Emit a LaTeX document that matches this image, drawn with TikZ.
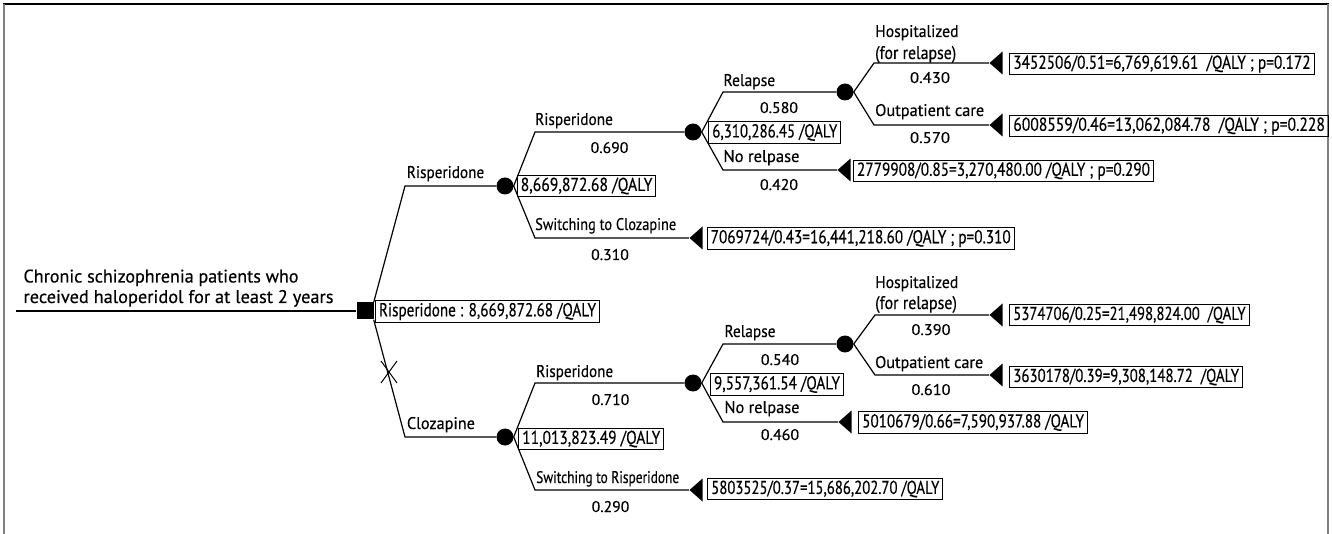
\documentclass[tikz,border=0pt]{standalone}
\usepackage{fontspec}
\usepackage{graphicx}
\setmainfont{PT Sans}[FakeBold=0.4]
\usetikzlibrary{shapes.geometric,shapes.misc}
\newcommand{\labw}[2]{\resizebox{#1pt}{12pt}{#2}}
\newcommand{\rootw}[2]{\resizebox{#1pt}{13pt}{#2}}
\newcommand{\boxw}[2]{\resizebox{#1pt}{13.3pt}{#2}}
\newcommand{\probw}[2]{\resizebox{#1pt}{11pt}{#2}}
\tikzset{
  br/.style={line width=1.2pt},
  qbox/.style={draw, line width=1pt, anchor=west, inner xsep=3.5pt, inner ysep=0pt, minimum height=21.5pt},
  chance/.style={circle, fill=black, minimum size=17pt, inner sep=0pt},
  term/.style={isosceles triangle, shape border rotate=180, fill=black, isosceles triangle stretches,
     minimum width=23pt, minimum height=13pt, inner sep=0pt, anchor=apex},
  lbl/.style={anchor=base west, inner sep=0pt},
  prob/.style={anchor=base, inner sep=0pt},
  every node/.append style={font=\fontsize{17}{20}\selectfont}
}
\begin{document}
\begin{tikzpicture}[x=1pt,y=-1pt]
\useasboundingbox (0,0) rectangle (1332,534);
% frame
\draw[black, line width=1.6pt] (3,4) -- (1329,4);
\draw[gray, line width=2pt] (4,4) -- (4,534);
\draw[gray, line width=2pt] (1328,4) -- (1328,534);

% root
\coordinate (start) at (16,311);
\node[fill=black, minimum size=17pt, inner sep=0pt] (sq) at (365,311) {};
\node[lbl] (root1) at (23.3,282.5) {\rootw{275}{Chronic schizophrenia patients who}};
\node[lbl] (root2) at (23.3,303) {\rootw{310}{received haloperidol for at least 2 years}};
\draw[br] (start) -- (sq.west);
\node[qbox] (bsq) at (375,311.5) {\boxw{217}{Risperidone : 8,669,872.68 /QALY}};

% first level
\node[chance] (c1) at (505,186) {};
\node[chance] (c2) at (505,437) {};
\coordinate (k1) at (405,186);
\coordinate (k2) at (405,437);
\draw[br] (sq.north east) -- (k1) -- (c1);
\draw[br] (sq.south east) -- (k2) -- (c2);
\node[lbl] (l1) at (406.7,178) {\labw{77.3}{Risperidone}};
\node[lbl] (l2) at (406.7,429) {\labw{68}{Clozapine}};
\node[draw, cross out, line width=1pt, minimum width=15pt, minimum height=21pt, inner sep=0pt] (xm) at (389,372) {};
\node[qbox] (b1) at (516.7,186) {\boxw{131.7}{8,669,872.68 /QALY}};
\node[qbox] (b2) at (518.3,439) {\boxw{138}{11,013,823.49 /QALY}};

% ===== top subtree
\node[chance] (c11) at (693,132) {};
\node[term] (t12) at (689,238) {};
\coordinate (k11) at (535,132);
\coordinate (k12) at (535,238);
\draw[br] (c1.east) -- (k11) -- (c11);
\draw[br] (c1.east) -- (k12) -- (t12.apex);
\node[lbl] (l11) at (535,125) {\labw{77.7}{Risperidone}};
\node[prob] (p11) at (609.5,153) {\probw{37.7}{0.690}};
\node[lbl] (l12) at (535,230) {\labw{141}{Switching to Clozapine}};
\node[prob] (p12) at (610,260) {\probw{37.7}{0.310}};
\node[qbox] (b12) at (706.7,238.5) {\boxw{300}{7069724/0.43=16,441,218.60 /QALY ; p=0.310}};
\node[qbox] (b11) at (708.3,132.5) {\boxw{125}{6,310,286.45 /QALY}};

\node[chance] (c111) at (845,92) {};
\node[term] (t112) at (837,170) {};
\coordinate (k111) at (723,92);
\coordinate (k112) at (723,170);
\draw[br] (c11.east) -- (k111) -- (c111);
\draw[br] (c11.east) -- (k112) -- (t112.apex);
\node[lbl] (l111) at (723.3,86) {\labw{51.7}{Relapse}};
\node[prob] (p111) at (779,113) {\probw{38}{0.580}};
\node[lbl] (l112) at (723.3,162) {\labw{76}{No relpase}};
\node[prob] (p112) at (779,190) {\probw{38}{0.420}};
\node[qbox] (b112) at (853,171) {\boxw{293}{2779908/0.85=3,270,480.00 /QALY ; p=0.290}};

\node[term] (t1111) at (989,63) {};
\node[term] (t1112) at (989,125) {};
\coordinate (k1111) at (874,63);
\coordinate (k1112) at (874,125);
\draw[br] (c111.east) -- (k1111) -- (t1111.apex);
\draw[br] (c111.east) -- (k1112) -- (t1112.apex);
\node[lbl] (l1111a) at (875,37) {\labw{83.3}{Hospitalized}};
\node[lbl] (l1111b) at (875,59) {\rootw{81}{(for relapse)}};
\node[prob] (p1111) at (930,83) {\probw{40}{0.430}};
\node[lbl] (l1112) at (875,116) {\labw{109}{Outpatient care}};
\node[prob] (p1112) at (930,143) {\probw{40}{0.570}};
\node[qbox] (b1111) at (1009.3,64) {\boxw{297.3}{3452506/0.51=6,769,619.61 \ /QALY ; p=0.172}};
\node[qbox] (b1112) at (1009.3,126) {\boxw{311.6}{6008559/0.46=13,062,084.78 \ /QALY ; p=0.228}};

% ===== bottom subtree
\node[chance] (c21) at (693,383) {};
\node[term] (t22) at (689,490) {};
\coordinate (k21) at (535,383);
\coordinate (k22) at (535,490);
\draw[br] (c2.east) -- (k21) -- (c21);
\draw[br] (c2.east) -- (k22) -- (t22.apex);
\node[lbl] (l21) at (536,377) {\labw{77}{Risperidone}};
\node[prob] (p21) at (610.5,405) {\probw{37.6}{0.710}};
\node[lbl] (l22) at (536,483) {\labw{143}{Switching to Risperidone}};
\node[prob] (p22) at (610.5,512) {\probw{37.6}{0.290}};
\node[qbox] (b22) at (707.3,489) {\boxw{228}{5803525/0.37=15,686,202.70 /QALY}};
\node[qbox] (b21) at (710,384.5) {\boxw{126}{9,557,361.54 /QALY}};

\node[chance] (c211) at (845,344) {};
\node[term] (t212) at (838,422) {};
\coordinate (k211) at (723,344);
\coordinate (k212) at (723,422);
\draw[br] (c21.east) -- (k211) -- (c211);
\draw[br] (c21.east) -- (k212) -- (t212.apex);
\node[lbl] (l211) at (724.3,337) {\labw{51}{Relapse}};
\node[prob] (p211) at (780,365) {\probw{38.3}{0.540}};
\node[lbl] (l212) at (724.3,413) {\labw{75}{No relpase}};
\node[prob] (p212) at (780,440) {\probw{38.3}{0.460}};
\node[qbox] (b212) at (858.3,422.5) {\boxw{221.7}{5010679/0.66=7,590,937.88 /QALY}};

\node[term] (t2111) at (989,315) {};
\node[term] (t2112) at (989,375) {};
\coordinate (k2111) at (875,315);
\coordinate (k2112) at (875,375);
\draw[br] (c211.east) -- (k2111) -- (t2111.apex);
\draw[br] (c211.east) -- (k2112) -- (t2112.apex);
\node[lbl] (l2111a) at (875,288) {\labw{83}{Hospitalized}};
\node[lbl] (l2111b) at (875,309) {\rootw{81.7}{(for relapse)}};
\node[prob] (p2111) at (931,335) {\probw{39}{0.390}};
\node[lbl] (l2112) at (875,368) {\labw{108}{Outpatient care}};
\node[prob] (p2112) at (931,395) {\probw{39}{0.610}};
\node[qbox] (b2111) at (1009.3,315) {\boxw{232.3}{5374706/0.25=21,498,824.00 \ /QALY}};
\node[qbox] (b2112) at (1009.3,377) {\boxw{225.7}{3630178/0.39=9,308,148.72 \ /QALY}};
\end{tikzpicture}
\end{document}
